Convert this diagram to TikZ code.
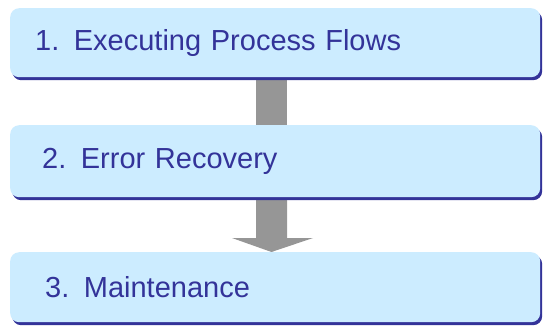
\documentclass[tikz,border=0pt]{standalone}
\usepackage{fontspec}
\setmainfont{Liberation Sans}
\usetikzlibrary{shadows}
\definecolor{boxfill}{HTML}{CCECFF}
\definecolor{boxtext}{HTML}{333399}
\definecolor{shaft}{HTML}{969696}
\begin{document}
\begin{tikzpicture}[x=1pt,y=-1pt,
  stepbox/.style={draw=none,fill=boxfill,rounded corners=9pt,minimum width=513pt,minimum height=69pt,
    text=boxtext,font=\fontsize{29}{32}\selectfont,anchor=north west,
    text width=480pt,align=left,inner xsep=25pt,
    drop shadow={shadow xshift=2pt,shadow yshift=-3pt,fill=boxtext,opacity=1}}]
\useasboundingbox (0,0) rectangle (548,325);
\fill[shaft] (256,76) rectangle (287,126);
\fill[shaft] (256,196) rectangle (287,238) -- (313,238) -- (271.5,252) -- (232,238) -- (256,238);
\node[stepbox] (s1) at (10,8) {\raisebox{-2pt}{1. Executing Process Flows}};
\node[stepbox,minimum height=72pt] (s2) at (10,125) {\hspace{7pt}\raisebox{-2pt}{2. Error Recovery}};
\node[stepbox,minimum height=70pt] (s3) at (10,252) {\hspace{10pt}\raisebox{-2pt}{3. Maintenance}};
\end{tikzpicture}
\end{document}
